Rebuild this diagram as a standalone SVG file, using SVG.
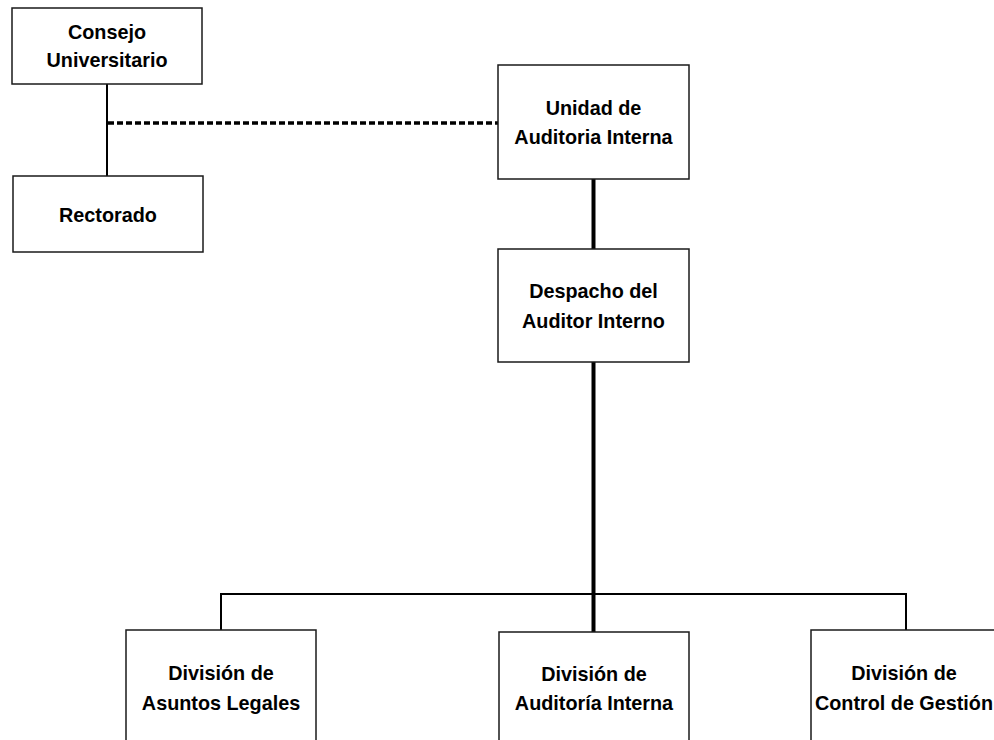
<svg xmlns="http://www.w3.org/2000/svg" width="994" height="740" viewBox="0 0 994 740">
<style>
.box{fill:#fff;stroke:#1a1a1a;stroke-width:1.5}
.t{font-family:"Liberation Sans",Arial,sans-serif;font-weight:bold;font-size:19.8px;fill:#000;text-anchor:middle}
.thin{stroke:#000;stroke-width:2;fill:none}
.thick{stroke:#000;stroke-width:4;fill:none}
.dash{stroke:#000;stroke-width:3.5;stroke-dasharray:6 3;fill:none}
</style>
<rect width="994" height="740" fill="#fff"/>
<g id="connectors">
<line class="thin" x1="107" y1="84" x2="107" y2="176"/>
<line class="dash" x1="108" y1="123" x2="498" y2="123"/>
<line class="thick" x1="593.5" y1="179" x2="593.5" y2="249"/>
<line class="thick" x1="593.5" y1="362" x2="593.5" y2="632"/>
<polyline class="thin" points="221,630 221,594 906,594 906,630"/>
</g>
<g id="consejo">
<rect class="box" x="12" y="8" width="190" height="76"/>
<text class="t" x="107" y="39">Consejo</text>
<text class="t" x="107" y="67">Universitario</text>
</g>
<g id="rectorado">
<rect class="box" x="13" y="176" width="190" height="76"/>
<text class="t" x="108" y="222">Rectorado</text>
</g>
<g id="unidad">
<rect class="box" x="498" y="65" width="191" height="114"/>
<text class="t" x="593.5" y="115">Unidad de</text>
<text class="t" x="593.5" y="144">Auditoria Interna</text>
</g>
<g id="despacho">
<rect class="box" x="498" y="249" width="191" height="113"/>
<text class="t" x="593.5" y="298">Despacho del</text>
<text class="t" x="593.5" y="328">Auditor Interno</text>
</g>
<g id="div-legales">
<rect class="box" x="126" y="630" width="190" height="130"/>
<text class="t" x="221" y="680">División de</text>
<text class="t" x="221" y="710">Asuntos Legales</text>
</g>
<g id="div-auditoria">
<rect class="box" x="499" y="632" width="190" height="130"/>
<text class="t" x="594" y="681">División de</text>
<text class="t" x="594" y="710">Auditoría Interna</text>
</g>
<g id="div-control">
<rect class="box" x="811" y="630" width="195" height="130"/>
<text class="t" x="904" y="680">División de</text>
<text class="t" x="815" y="710" style="text-anchor:start" textLength="178" lengthAdjust="spacingAndGlyphs">Control de Gestión</text>
</g>
</svg>
